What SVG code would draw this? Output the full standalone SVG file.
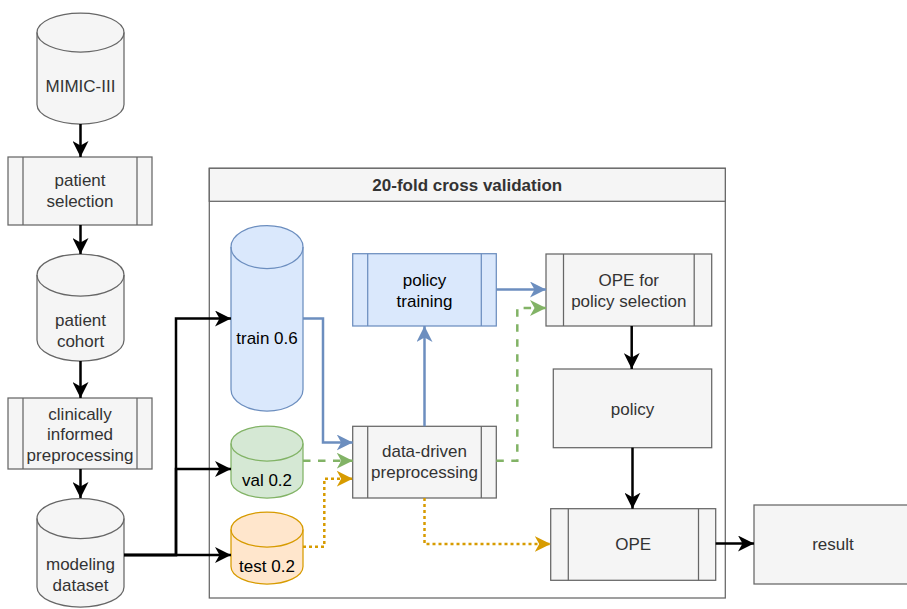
<svg xmlns="http://www.w3.org/2000/svg" width="907" height="609" viewBox="0 0 907 609">
  <defs>
    <marker id="arrow-black" markerUnits="userSpaceOnUse" markerWidth="16" markerHeight="16" refX="16" refY="8" orient="auto">
      <path d="M0,0 L16,8 L0,16 L4.5,8 Z" fill="#000000"/>
    </marker>
    <marker id="arrow-blue" markerUnits="userSpaceOnUse" markerWidth="16" markerHeight="16" refX="16" refY="8" orient="auto">
      <path d="M0,0 L16,8 L0,16 L4.5,8 Z" fill="#6c8ebf"/>
    </marker>
    <marker id="arrow-green" markerUnits="userSpaceOnUse" markerWidth="16" markerHeight="16" refX="16" refY="8" orient="auto">
      <path d="M0,0 L16,8 L0,16 L4.5,8 Z" fill="#82b366"/>
    </marker>
    <marker id="arrow-orange" markerUnits="userSpaceOnUse" markerWidth="16" markerHeight="16" refX="16" refY="8" orient="auto">
      <path d="M0,0 L16,8 L0,16 L4.5,8 Z" fill="#d79b00"/>
    </marker>
  </defs>
  <style>
    text { font-family: "Liberation Sans", Arial, sans-serif; font-size: 17px; text-anchor: middle; }
    .gray { fill: #f5f5f5; stroke: #666666; stroke-width: 1.25; }
    .blue { fill: #dae8fc; stroke: #6c8ebf; stroke-width: 1.25; }
    .green { fill: #d5e8d4; stroke: #82b366; stroke-width: 1.25; }
    .orange { fill: #ffe6cc; stroke: #d79b00; stroke-width: 1.25; }
    .cap { fill: none; }
    .t-gray { fill: #333333; }
    .t-dark { fill: #000000; }
    .title { font-weight: bold; fill: #333333; }
    .edge { fill: none; stroke-width: 2.5; }
    .e-black { stroke: #000000; marker-end: url(#arrow-black); }
    .e-blue { stroke: #6c8ebf; marker-end: url(#arrow-blue); }
    .e-green { stroke: #82b366; stroke-dasharray: 7.5 7.5; marker-end: url(#arrow-green); }
    .e-orange { stroke: #d79b00; stroke-dasharray: 3 3; marker-end: url(#arrow-orange); }
  </style>

  <rect width="907" height="609" fill="#ffffff"/>

  <!-- cross validation container -->
  <g id="cv-container">
    <rect x="209.3" y="168.3" width="516" height="429.7" fill="#ffffff" stroke="#666666" stroke-width="1.25"/>
    <rect x="209.3" y="168.3" width="516" height="33" class="gray"/>
    <text x="467.3" y="191" class="title">20-fold cross validation</text>
  </g>

  <!-- left pipeline -->
  <g id="mimic">
    <path class="gray" d="M37,32.5 a43.5,19.5 0 0 1 87,0 V104.5 a43.5,19.5 0 0 1 -87,0 Z"/>
    <path class="gray cap" d="M37,32.5 a43.5,19.5 0 0 0 87,0"/>
    <text x="80.5" y="92" class="t-gray">MIMIC-III</text>
  </g>

  <g id="patient-selection">
    <rect x="8" y="157" width="144" height="68" class="gray"/>
    <line x1="23" y1="157" x2="23" y2="225" class="gray"/>
    <line x1="137" y1="157" x2="137" y2="225" class="gray"/>
    <text x="80" y="186" class="t-gray">patient</text>
    <text x="80" y="207" class="t-gray">selection</text>
  </g>

  <g id="patient-cohort">
    <path class="gray" d="M37,275 a43.5,21 0 0 1 87,0 V340 a43.5,21 0 0 1 -87,0 Z"/>
    <path class="gray cap" d="M37,275 a43.5,21 0 0 0 87,0"/>
    <text x="80.5" y="326" class="t-gray">patient</text>
    <text x="80.5" y="347" class="t-gray">cohort</text>
  </g>

  <g id="clinical-preprocessing">
    <rect x="8" y="398" width="144" height="71" class="gray"/>
    <line x1="23" y1="398" x2="23" y2="469" class="gray"/>
    <line x1="137" y1="398" x2="137" y2="469" class="gray"/>
    <text x="80" y="419.5" class="t-gray">clinically</text>
    <text x="80" y="440" class="t-gray">informed</text>
    <text x="80" y="460.5" class="t-gray">preprocessing</text>
  </g>

  <g id="modeling-dataset">
    <path class="gray" d="M37,518.5 a43.5,20 0 0 1 87,0 V587 a43.5,20 0 0 1 -87,0 Z"/>
    <path class="gray cap" d="M37,518.5 a43.5,20 0 0 0 87,0"/>
    <text x="80.5" y="569.5" class="t-gray">modeling</text>
    <text x="80.5" y="590.5" class="t-gray">dataset</text>
  </g>

  <!-- data splits -->
  <g id="train">
    <path class="blue" d="M231,247 a36,21.5 0 0 1 72,0 V389.5 a36,21.5 0 0 1 -72,0 Z"/>
    <path class="blue cap" d="M231,247 a36,21.5 0 0 0 72,0"/>
    <text x="267" y="343.5" class="t-dark">train 0.6</text>
  </g>

  <g id="val">
    <path class="green" d="M231,443.5 a36,17.5 0 0 1 72,0 V480.5 a36,17.5 0 0 1 -72,0 Z"/>
    <path class="green cap" d="M231,443.5 a36,17.5 0 0 0 72,0"/>
    <text x="267" y="486" class="t-dark">val 0.2</text>
  </g>

  <g id="test">
    <path class="orange" d="M231,529.5 a36,17.5 0 0 1 72,0 V566.5 a36,17.5 0 0 1 -72,0 Z"/>
    <path class="orange cap" d="M231,529.5 a36,17.5 0 0 0 72,0"/>
    <text x="267" y="571.5" class="t-dark">test 0.2</text>
  </g>

  <!-- processing steps -->
  <g id="policy-training">
    <rect x="352.7" y="253.7" width="143.6" height="72.3" class="blue"/>
    <line x1="367.7" y1="253.7" x2="367.7" y2="326" class="blue"/>
    <line x1="481.3" y1="253.7" x2="481.3" y2="326" class="blue"/>
    <text x="424.5" y="286" class="t-dark">policy</text>
    <text x="424.5" y="306.5" class="t-dark">training</text>
  </g>

  <g id="data-driven-preprocessing">
    <rect x="352.7" y="426.3" width="143.6" height="71.7" class="gray"/>
    <line x1="367.7" y1="426.3" x2="367.7" y2="498" class="gray"/>
    <line x1="481.3" y1="426.3" x2="481.3" y2="498" class="gray"/>
    <text x="424.5" y="457" class="t-gray">data-driven</text>
    <text x="424.5" y="478" class="t-gray">preprocessing</text>
  </g>

  <g id="ope-selection">
    <rect x="546" y="254" width="165.7" height="72" class="gray"/>
    <line x1="563.5" y1="254" x2="563.5" y2="326" class="gray"/>
    <line x1="694.2" y1="254" x2="694.2" y2="326" class="gray"/>
    <text x="628.8" y="285.5" class="t-gray">OPE for</text>
    <text x="628.8" y="306.5" class="t-gray">policy selection</text>
  </g>

  <g id="policy">
    <rect x="553.3" y="369" width="158.4" height="78.7" class="gray"/>
    <text x="632.5" y="415" class="t-gray">policy</text>
  </g>

  <g id="ope">
    <rect x="550.7" y="508.7" width="165" height="71.6" class="gray"/>
    <line x1="568.3" y1="508.7" x2="568.3" y2="580.3" class="gray"/>
    <line x1="698.5" y1="508.7" x2="698.5" y2="580.3" class="gray"/>
    <text x="633.2" y="550" class="t-gray">OPE</text>
  </g>

  <g id="result">
    <rect x="754" y="505" width="158" height="79" class="gray"/>
    <text x="833" y="549.5" class="t-gray">result</text>
  </g>

  <!-- connectors -->
  <g id="connectors">
    <path class="edge e-black" d="M80.5,124 V157"/>
    <path class="edge e-black" d="M80.5,225 V254"/>
    <path class="edge e-black" d="M80.5,361 V398"/>
    <path class="edge e-black" d="M80.5,469 V498"/>
    <path class="edge e-black" d="M124,555 H176 V318.5 H231"/>
    <path class="edge e-black" d="M124,555 H176 V469 H231"/>
    <path class="edge e-black" d="M124,555 H231"/>

    <path class="edge e-blue" d="M303,318.5 H323 V442.5 H352.7"/>
    <path class="edge e-green" d="M303,460.7 H352.7"/>
    <path class="edge e-orange" d="M303,546.7 H324.3 V478.7 H352.7"/>

    <path class="edge e-blue" d="M424.5,426.3 V326"/>
    <path class="edge e-blue" d="M496.3,289.5 H546"/>
    <path class="edge e-green" d="M496.3,460.7 H517.3 V308 H546"/>
    <path class="edge e-orange" d="M424.5,498 V544 H550.7"/>

    <path class="edge e-black" d="M631.7,326 V369"/>
    <path class="edge e-black" d="M632.5,447.7 V508.7"/>
    <path class="edge e-black" d="M715.7,543.5 H754"/>
  </g>
</svg>
